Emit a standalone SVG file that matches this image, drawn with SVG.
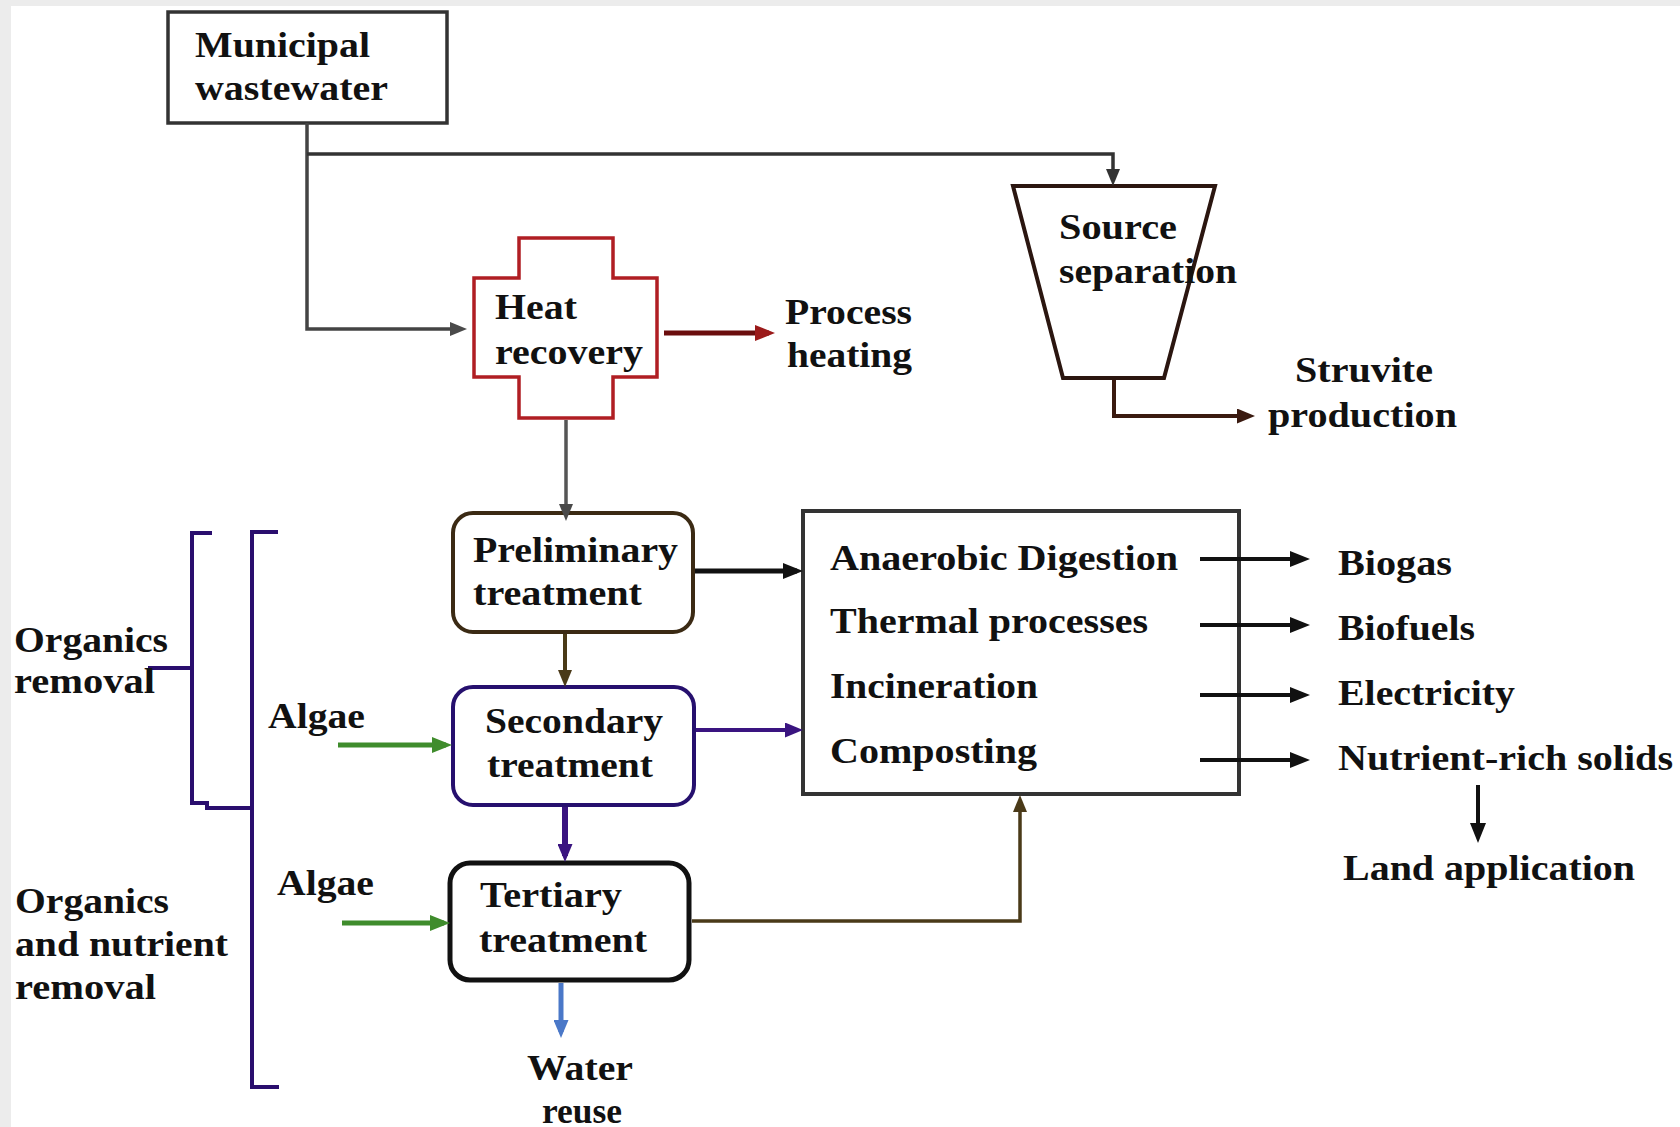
<svg xmlns="http://www.w3.org/2000/svg" width="1680" height="1127" viewBox="0 0 1680 1127">
<style>
.t{font-family:"Liberation Serif","Times New Roman",serif;font-weight:bold;font-size:35px;fill:#111}
.c{fill:none;stroke-linejoin:miter;stroke-linecap:butt}
.br{fill:none;stroke:#2a0e6e;stroke-width:4}
</style>
<defs>
<marker id="aGray" markerUnits="userSpaceOnUse" markerWidth="17" markerHeight="14" refX="11" refY="7" orient="auto"><path d="M0,0 L17,7 L0,14 z" fill="#4a4a4a"/></marker>
<marker id="aDark" markerUnits="userSpaceOnUse" markerWidth="17" markerHeight="14" refX="11" refY="7" orient="auto"><path d="M0,0 L17,7 L0,14 z" fill="#333"/></marker>
<marker id="aBlack" markerUnits="userSpaceOnUse" markerWidth="20" markerHeight="16" refX="14" refY="8" orient="auto"><path d="M0,0 L20,8 L0,16 z" fill="#111"/></marker>
<marker id="aRed" markerUnits="userSpaceOnUse" markerWidth="20" markerHeight="16" refX="14" refY="8" orient="auto"><path d="M0,0 L20,8 L0,16 z" fill="#9b1a1a"/></marker>
<marker id="aBrown" markerUnits="userSpaceOnUse" markerWidth="17" markerHeight="14" refX="11" refY="7" orient="auto"><path d="M0,0 L17,7 L0,14 z" fill="#4a3a18"/></marker>
<marker id="aDBrown" markerUnits="userSpaceOnUse" markerWidth="18" markerHeight="15" refX="12" refY="7.5" orient="auto"><path d="M0,0 L18,7.5 L0,15 z" fill="#3a1a10"/></marker>
<marker id="aPurple" markerUnits="userSpaceOnUse" markerWidth="18" markerHeight="15" refX="12" refY="7.5" orient="auto"><path d="M0,0 L18,7.5 L0,15 z" fill="#3a1480"/></marker>
<marker id="aGreen" markerUnits="userSpaceOnUse" markerWidth="20" markerHeight="16" refX="14" refY="8" orient="auto"><path d="M0,0 L20,8 L0,16 z" fill="#3f8c2c"/></marker>
<marker id="aBlue" markerUnits="userSpaceOnUse" markerWidth="18" markerHeight="15" refX="12" refY="7.5" orient="auto"><path d="M0,0 L18,7.5 L0,15 z" fill="#4a78c8"/></marker>
</defs>
<rect x="0" y="0" width="1680" height="1127" fill="#ececec"/>
<rect x="11" y="6" width="1669" height="1121" fill="#ffffff"/>

<g id="brackets">
<path class="br" d="M212,533 H192 V803 H207 V808 H252"/>
<path class="br" d="M148,668 H192"/>
<path class="br" d="M278,532 H252 V1087 H279"/>
</g>

<g id="municipal">
<rect x="168" y="12" width="279" height="111" fill="#fff" stroke="#333" stroke-width="3.5"/>
<text class="t" x="195" y="57" textLength="175" lengthAdjust="spacingAndGlyphs">Municipal</text>
<text class="t" x="195" y="100" textLength="193" lengthAdjust="spacingAndGlyphs">wastewater</text>
</g>

<g id="heat-recovery">
<path d="M519,238 H613 V278 H657 V377 H613 V418 H519 V377 H474 V278 H519 Z" fill="#fff" stroke="#b01e23" stroke-width="3.5"/>
<text class="t" x="495" y="319" textLength="82" lengthAdjust="spacingAndGlyphs">Heat</text>
<text class="t" x="495" y="364" textLength="148" lengthAdjust="spacingAndGlyphs">recovery</text>
</g>

<g id="process-heating">
<text class="t" x="785" y="324" textLength="127" lengthAdjust="spacingAndGlyphs">Process</text>
<text class="t" x="787" y="367" textLength="125" lengthAdjust="spacingAndGlyphs">heating</text>
</g>

<g id="source-separation">
<path d="M1013,186 H1215 L1164,378 H1063 Z" fill="none" stroke="#2b1610" stroke-width="4"/>
<text class="t" x="1059" y="239" textLength="118" lengthAdjust="spacingAndGlyphs">Source</text>
<text class="t" x="1059" y="283" textLength="178" lengthAdjust="spacingAndGlyphs">separation</text>
</g>

<g id="struvite">
<text class="t" x="1295" y="382" textLength="138" lengthAdjust="spacingAndGlyphs">Struvite</text>
<text class="t" x="1268" y="427" textLength="189" lengthAdjust="spacingAndGlyphs">production</text>
</g>

<g id="preliminary">
<rect x="453" y="513" width="240" height="119" rx="20" fill="#fff" stroke="#3b2a14" stroke-width="4"/>
<text class="t" x="473" y="562" textLength="205" lengthAdjust="spacingAndGlyphs">Preliminary</text>
<text class="t" x="473" y="605" textLength="169" lengthAdjust="spacingAndGlyphs">treatment</text>
</g>

<g id="secondary">
<rect x="453" y="687" width="241" height="118" rx="20" fill="#fff" stroke="#26106e" stroke-width="4"/>
<text class="t" x="485" y="733" textLength="178" lengthAdjust="spacingAndGlyphs">Secondary</text>
<text class="t" x="487" y="777" textLength="166" lengthAdjust="spacingAndGlyphs">treatment</text>
</g>

<g id="tertiary">
<rect x="450" y="863" width="239" height="117" rx="20" fill="#fff" stroke="#111" stroke-width="5"/>
<text class="t" x="480" y="907" textLength="142" lengthAdjust="spacingAndGlyphs">Tertiary</text>
<text class="t" x="479" y="952" textLength="168" lengthAdjust="spacingAndGlyphs">treatment</text>
</g>

<g id="water-reuse">
<text class="t" x="527" y="1080" textLength="106" lengthAdjust="spacingAndGlyphs">Water</text>
<text class="t" x="542" y="1123" textLength="80" lengthAdjust="spacingAndGlyphs">reuse</text>
</g>

<g id="algae-1">
<text class="t" x="268" y="728" textLength="97" lengthAdjust="spacingAndGlyphs">Algae</text>
</g>
<g id="algae-2">
<text class="t" x="277" y="895" textLength="97" lengthAdjust="spacingAndGlyphs">Algae</text>
</g>

<g id="organics-removal">
<text class="t" x="14" y="652" textLength="154" lengthAdjust="spacingAndGlyphs">Organics</text>
<text class="t" x="14" y="693" textLength="141" lengthAdjust="spacingAndGlyphs">removal</text>
</g>

<g id="organics-nutrient-removal">
<text class="t" x="15" y="913" textLength="154" lengthAdjust="spacingAndGlyphs">Organics</text>
<text class="t" x="15" y="956" textLength="213" lengthAdjust="spacingAndGlyphs">and nutrient</text>
<text class="t" x="15" y="999" textLength="141" lengthAdjust="spacingAndGlyphs">removal</text>
</g>

<g id="processes">
<rect x="803" y="511" width="436" height="283" fill="#fff" stroke="#333" stroke-width="4"/>
<text class="t" x="830" y="570" textLength="348" lengthAdjust="spacingAndGlyphs">Anaerobic Digestion</text>
<text class="t" x="830" y="633" textLength="318" lengthAdjust="spacingAndGlyphs">Thermal processes</text>
<text class="t" x="830" y="698" textLength="208" lengthAdjust="spacingAndGlyphs">Incineration</text>
<text class="t" x="830" y="763" textLength="207" lengthAdjust="spacingAndGlyphs">Composting</text>
</g>

<g id="biogas"><text class="t" x="1338" y="575" textLength="114" lengthAdjust="spacingAndGlyphs">Biogas</text></g>
<g id="biofuels"><text class="t" x="1338" y="640" textLength="137" lengthAdjust="spacingAndGlyphs">Biofuels</text></g>
<g id="electricity"><text class="t" x="1338" y="705" textLength="177" lengthAdjust="spacingAndGlyphs">Electricity</text></g>
<g id="nutrient-solids"><text class="t" x="1338" y="770" textLength="335" lengthAdjust="spacingAndGlyphs">Nutrient-rich solids</text></g>
<g id="land-application"><text class="t" x="1343" y="880" textLength="292" lengthAdjust="spacingAndGlyphs">Land application</text></g>

<g id="connectors">
<path class="c" d="M307,123 V329 H461" stroke="#444" stroke-width="3.5" marker-end="url(#aGray)"/>
<path class="c" d="M307,154 H1113 V180" stroke="#333" stroke-width="3.5" marker-end="url(#aDark)"/>
<path class="c" d="M664,333 H769" stroke="#6b0d0d" stroke-width="5" marker-end="url(#aRed)"/>
<path class="c" d="M566,420 V515" stroke="#555" stroke-width="3.5" marker-end="url(#aGray)"/>
<path class="c" d="M1114,380 V416 H1249" stroke="#3a1a10" stroke-width="4" marker-end="url(#aDBrown)"/>
<path class="c" d="M695,571 H797" stroke="#111" stroke-width="5" marker-end="url(#aBlack)"/>
<path class="c" d="M565,634 V681" stroke="#4a3a18" stroke-width="4" marker-end="url(#aBrown)"/>
<path class="c" d="M696,730 H797" stroke="#3a1480" stroke-width="4" marker-end="url(#aPurple)"/>
<path class="c" d="M565,807 V856" stroke="#3a1480" stroke-width="6" marker-end="url(#aPurple)"/>
<path class="c" d="M338,745 H446" stroke="#3f8c2c" stroke-width="5" marker-end="url(#aGreen)"/>
<path class="c" d="M342,923 H444" stroke="#3f8c2c" stroke-width="5" marker-end="url(#aGreen)"/>
<path class="c" d="M692,921 H1020 V801" stroke="#4a3a18" stroke-width="3.5" marker-end="url(#aBrown)"/>
<path class="c" d="M561,983 V1032" stroke="#4a78c8" stroke-width="5" marker-end="url(#aBlue)"/>
<path class="c" d="M1200,559 H1304" stroke="#111" stroke-width="4" marker-end="url(#aBlack)"/>
<path class="c" d="M1200,625 H1304" stroke="#111" stroke-width="4" marker-end="url(#aBlack)"/>
<path class="c" d="M1200,695 H1304" stroke="#111" stroke-width="4" marker-end="url(#aBlack)"/>
<path class="c" d="M1200,760 H1304" stroke="#111" stroke-width="4" marker-end="url(#aBlack)"/>
<path class="c" d="M1478,785 V837" stroke="#111" stroke-width="4" marker-end="url(#aBlack)"/>
</g>
</svg>
